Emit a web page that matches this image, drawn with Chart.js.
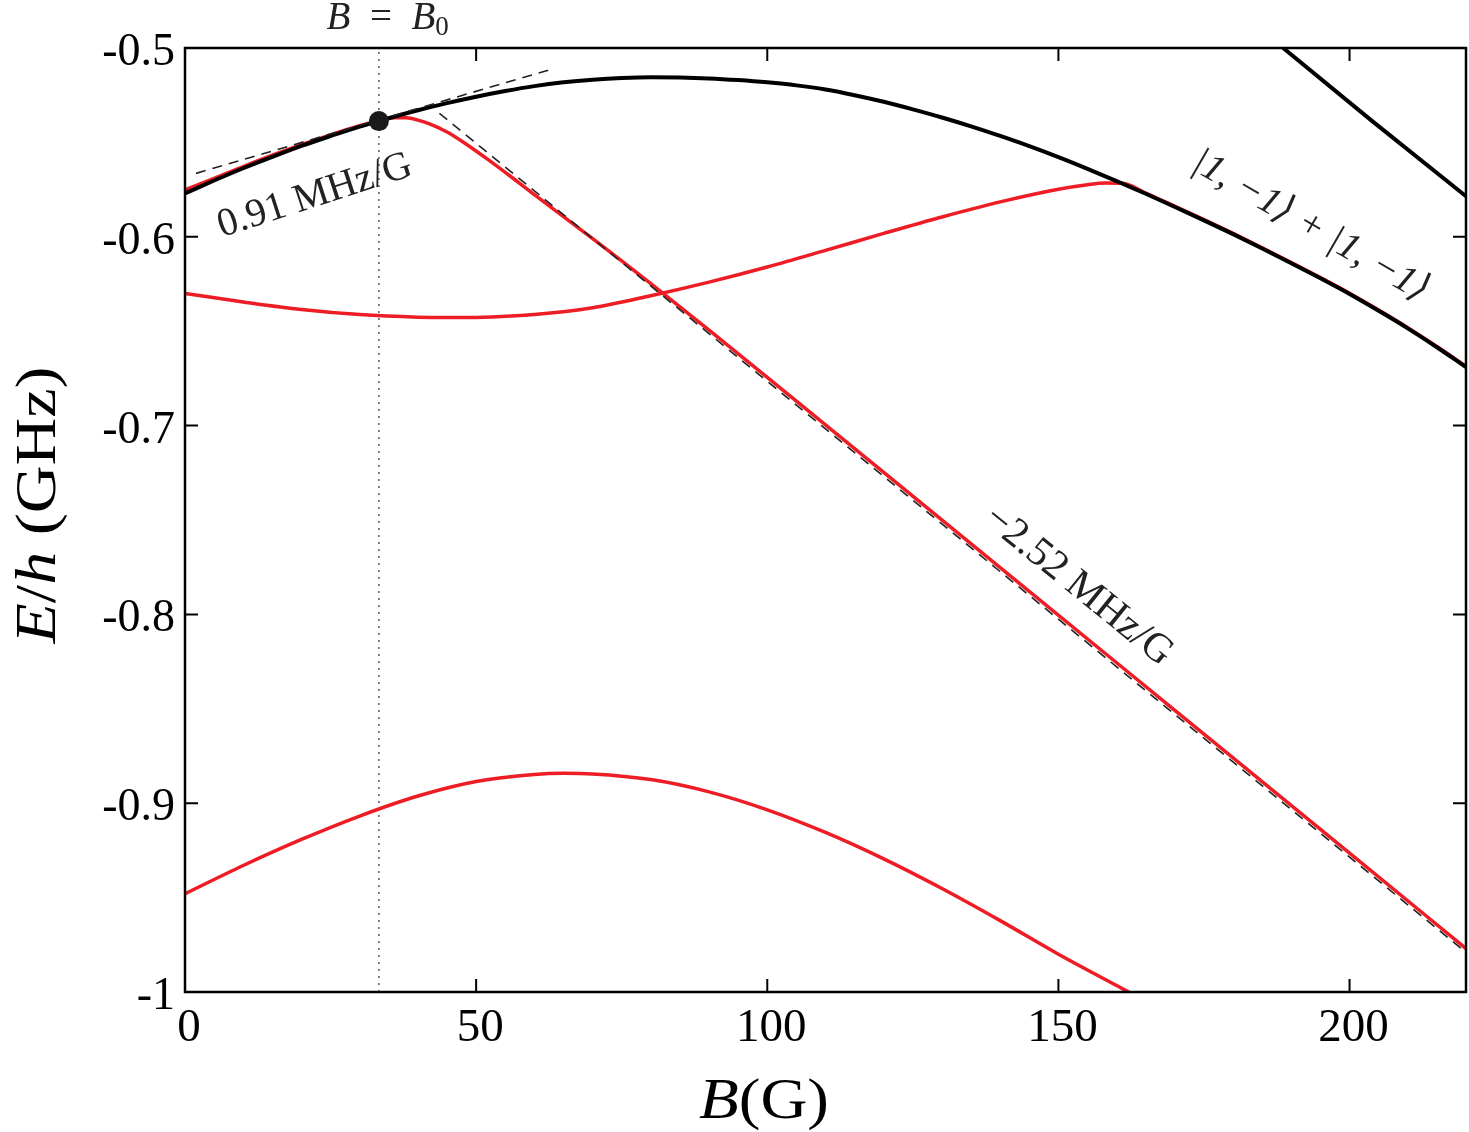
<!DOCTYPE html>
<html><head><meta charset="utf-8">
<script src="https://cdn.jsdelivr.net/npm/chart.js@4/dist/chart.umd.min.js"></script>
<style>html,body{margin:0;padding:0;background:#fff;}canvas{display:block;}</style>
</head><body>
<canvas id="c" width="1469" height="1132" style="width:1469px;height:1132px"></canvas>
<script>
// ---- tick values / labels ----
const xTickValues = [0, 50, 100, 150, 200];
const xTickLabels = ['0', '50', '100', '150', '200'];
const yTickValues = [-1, -0.9, -0.8, -0.7, -0.6, -0.5];
const yTickLabels = ['-1', '-0.9', '-0.8', '-0.7', '-0.6', '-0.5'];

// ---- upper black level ----
const blackB = [0,5,10,15,20,25,30,33.3,40,45,50,55,60,65,70,75,80,85,90,95,100,105,110,115,120,125,130,135,140,145,150,155,160,165,170,175,180,185,190,195,200,205,210,215,220];
const blackE = [-0.5770,-0.5702,-0.5637,-0.5577,-0.5519,-0.5466,-0.5416,-0.5387,-0.5330,-0.5292,-0.5258,-0.5228,-0.5202,-0.5182,-0.5168,-0.5159,-0.5155,-0.5156,-0.5161,-0.5170,-0.5182,-0.5198,-0.5220,-0.5250,-0.5285,-0.5325,-0.5368,-0.5415,-0.5466,-0.5520,-0.5578,-0.5640,-0.5705,-0.5772,-0.5842,-0.5913,-0.5986,-0.6062,-0.6140,-0.6220,-0.6303,-0.6392,-0.6485,-0.6585,-0.6690];

// ---- second black level (top right) ----
const black2B = [188.6, 204, 220];
const black2E = [-0.5000, -0.5390, -0.5785];

// ---- red levels ----
const red1B = [0,5,10,15,20,25,30,33.3,36,38,40,42,45,48,52,56,60,65,70,75,80,90,100,120,140,160,180,200,220];
const red1E = [-0.5752,-0.5690,-0.5628,-0.5568,-0.5512,-0.5460,-0.5412,-0.5385,-0.5369,-0.5370,-0.5382,-0.5402,-0.5445,-0.5503,-0.5590,-0.5682,-0.5777,-0.5893,-0.6010,-0.6128,-0.6248,-0.6494,-0.6745,-0.7248,-0.7752,-0.8256,-0.8760,-0.9264,-0.9770];

const red2B = [0,10,20,30,40,45,50,60,70,80,90,100,110,120,130,140,150,155,158,161,165,170,175,180,185,190,195,200,205,210,215,220];
const red2E = [-0.6300,-0.6345,-0.6385,-0.6412,-0.6426,-0.6428,-0.6427,-0.6412,-0.6376,-0.6312,-0.6240,-0.6160,-0.6072,-0.5982,-0.5895,-0.5815,-0.5748,-0.5724,-0.5715,-0.5716,-0.5768,-0.5838,-0.5909,-0.5982,-0.6058,-0.6136,-0.6216,-0.6299,-0.6388,-0.6481,-0.6581,-0.6686];

const red3B = [0,10,20,30,40,50,60,65,70,80,90,100,110,120,130,140,150,160,162.5];
const red3E = [-0.9480,-0.9330,-0.9192,-0.9068,-0.8962,-0.8885,-0.8848,-0.8842,-0.8845,-0.8875,-0.8940,-0.9035,-0.9155,-0.9295,-0.9452,-0.9622,-0.9800,-0.9966,-1.0008];

// ---- guide lines ----
const tangentB = [1.9, 62.9];
const tangentE = [-0.5664, -0.5113];
const slopeB = [43.7, 220];
const slopeE = [-0.5346, -0.9790];
const b0B = [33.3, 33.3];
const b0E = [-1, -0.5];
const dotB = [33.3];
const dotE = [-0.5387];

const zip = (xs, ys) => xs.map((v, i) => ({x: v, y: ys[i]}));

const SERIF = '"Liberation Serif", "DejaVu Serif", serif';
const RED = '#ee1c24';

function drawRich(ctx, parts, x, y) {
  let w = 0;
  parts.forEach(p => { ctx.font = p.font; p.w = ctx.measureText(p.t).width; w += p.w; });
  let cx = x - w / 2;
  parts.forEach(p => { ctx.font = p.font; ctx.fillText(p.t, cx, y + (p.dy || 0)); cx += p.w; });
}

const it = s => 'italic ' + s + 'px ' + SERIF;
const rm = s => s + 'px ' + SERIF;

const annotations = [
  {b: 22.3, e: -0.5784, angle: -18, parts: [{t: '0.91 MHz/G', font: rm(40)}]},
  {b: 153.4, e: -0.7850, angle: 39, parts: [{t: '\u22122.52 MHz/G', font: rm(41)}]},
  {b: 193.3, e: -0.5945, angle: 30, parts: [{t: '|1, \u22121\u27E9 + |1, \u22121\u27E9', font: it(39)}]}
];

const decorPlugin = {
  id: 'decor',
  afterDraw(chart) {
    const {ctx, chartArea: a, scales: {x, y}} = chart;
    ctx.save();
    // frame
    ctx.strokeStyle = '#000';
    ctx.lineWidth = 2.5;
    ctx.strokeRect(a.left, a.top, a.right - a.left, a.bottom - a.top);
    // inward ticks
    ctx.lineWidth = 2;
    const L = 13;
    ctx.beginPath();
    xTickValues.forEach(v => {
      const px = x.getPixelForValue(v);
      ctx.moveTo(px, a.bottom); ctx.lineTo(px, a.bottom - L);
      ctx.moveTo(px, a.top); ctx.lineTo(px, a.top + L);
    });
    yTickValues.forEach(v => {
      const py = y.getPixelForValue(v);
      ctx.moveTo(a.left, py); ctx.lineTo(a.left + L, py);
      ctx.moveTo(a.right, py); ctx.lineTo(a.right - L, py);
    });
    ctx.stroke();

    // axis titles (slightly widened to mimic the original typeface)
    ctx.fillStyle = '#000';
    ctx.textAlign = 'left';
    ctx.textBaseline = 'alphabetic';
    ctx.save();
    ctx.translate(764, 1118);
    ctx.scale(1.12, 1);
    drawRich(ctx, [
      {t: 'B', font: it(58)},
      {t: '(G)', font: rm(58)}
    ], 0, 0);
    ctx.restore();
    ctx.save();
    ctx.translate(55, 505);
    ctx.rotate(-Math.PI / 2);
    ctx.scale(1.14, 1);
    drawRich(ctx, [
      {t: 'E', font: it(58)},
      {t: '/', font: rm(58)},
      {t: 'h', font: it(58)},
      {t: ' (GHz)', font: rm(58)}
    ], 0, 0);
    ctx.restore();

    // B = B0 label
    ctx.fillStyle = '#222';
    drawRich(ctx, [
      {t: 'B', font: it(39)},
      {t: '\u2002=\u2002', font: rm(39)},
      {t: 'B', font: it(39)},
      {t: '0', font: rm(27), dy: 6}
    ], x.getPixelForValue(34.8), 29);

    // rotated annotations
    ctx.textBaseline = 'middle';
    annotations.forEach(an => {
      ctx.save();
      ctx.translate(x.getPixelForValue(an.b), y.getPixelForValue(an.e));
      ctx.rotate(an.angle * Math.PI / 180);
      drawRich(ctx, an.parts, 0, 0);
      ctx.restore();
    });
    ctx.restore();
  }
};

const lineDs = (data, color, width, order, extra) => Object.assign({
  data, borderColor: color, borderWidth: width, pointRadius: 0, fill: false,
  cubicInterpolationMode: 'monotone', order, clip: 0
}, extra || {});

new Chart(document.getElementById('c'), {
  type: 'line',
  data: {
    datasets: [
      {data: zip(dotB, dotE), showLine: false, pointRadius: 10, pointBackgroundColor: '#1a1a1a', pointBorderWidth: 0, order: 0},
      lineDs(zip(tangentB, tangentE), '#222', 1.6, 1, {borderDash: [10, 7], cubicInterpolationMode: 'default', tension: 0}),
      lineDs(zip(slopeB, slopeE), '#222', 1.6, 1, {borderDash: [10, 7], cubicInterpolationMode: 'default', tension: 0}),
      lineDs(zip(blackB, blackE), '#000', 4, 2),
      lineDs(zip(black2B, black2E), '#000', 4, 2, {cubicInterpolationMode: 'default', tension: 0}),
      lineDs(zip(red1B, red1E), RED, 3.5, 3),
      lineDs(zip(red2B, red2E), RED, 3.5, 3),
      lineDs(zip(red3B, red3E), RED, 3.5, 3),
      lineDs(zip(b0B, b0E), '#555', 1.5, 4, {borderDash: [2, 5], cubicInterpolationMode: 'default', tension: 0})
    ]
  },
  options: {
    responsive: false,
    animation: false,
    devicePixelRatio: 1,
    layout: {autoPadding: false, padding: {left: 0, right: 3, top: 48, bottom: 0}},
    plugins: {legend: {display: false}, tooltip: {enabled: false}},
    scales: {
      x: {
        type: 'linear', min: 0, max: 220,
        afterFit(s) { s.height = 140; s.paddingLeft = 0; s.paddingRight = 0; },
        afterBuildTicks(s) { s.ticks = xTickValues.map(v => ({value: v})); },
        ticks: {callback: (v, i) => xTickLabels[i], font: {family: SERIF, size: 47}, color: '#000', padding: 8, labelOffset: 4, maxRotation: 0, autoSkip: false},
        grid: {display: false, drawTicks: false},
        border: {display: false}
      },
      y: {
        type: 'linear', min: -1, max: -0.5,
        afterFit(s) { s.width = 185; s.paddingTop = 0; s.paddingBottom = 0; },
        afterBuildTicks(s) { s.ticks = yTickValues.map(v => ({value: v})); },
        ticks: {callback: (v, i) => yTickLabels[i], font: {family: SERIF, size: 46}, color: '#000', padding: 10, labelOffset: 5, autoSkip: false},
        grid: {display: false, drawTicks: false},
        border: {display: false}
      }
    }
  },
  plugins: [decorPlugin]
});
</script>
</body></html>
